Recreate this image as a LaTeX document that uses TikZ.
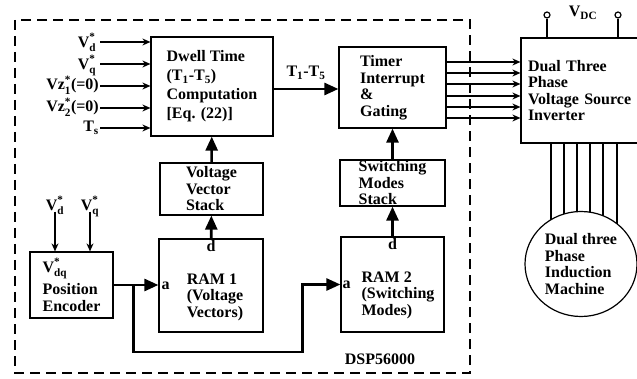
\documentclass[tikz,border=0pt]{standalone}
\usepackage{amsmath}
\usepackage{fontspec}
\setmainfont{Liberation Serif}
\usetikzlibrary{positioning,arrows.meta,shapes.geometric,backgrounds,calc}
\newcommand{\subsup}[2]{\smash{$_{\text{#1}}^{\text{#2}}$}}

\begin{document}
\begin{tikzpicture}[
  x=1pt, y=-1pt,
  font=\fontsize{16}{16.5}\selectfont\bfseries,
  box/.style   = {draw, line width=1.2pt, align=left, inner sep=0pt},
  txt/.style   = {align=left, inner sep=1pt},
  port/.style  = {inner sep=1pt},
  bus/.style   = {-{Triangle[length=14pt,width=12pt]}, line width=2.6pt},
  sig/.style   = {-{Stealth[length=8pt,width=7pt]}, line width=1.2pt},
  wire/.style  = {line width=1.2pt},
  frame/.style = {line width=1.6pt, dash pattern=on 10pt off 6pt},
  term/.style  = {draw, circle, line width=1.2pt, minimum size=6pt, inner sep=0pt},
]
\clip (0,0) rectangle (637,379);

% ---------- DSP blocks ----------
\node[box, minimum width=122pt, minimum height=99pt,
      font=\fontsize{16}{19}\selectfont\bfseries] (dwell) at (212,86.5)
  {Dwell Time\\(T\textsubscript{1}-T\textsubscript{5})\\Computation\\{[}Eq. (22)]};
\node[box, minimum width=107pt, minimum height=81pt] (timer) at (392.5,87.5)
  {Timer\\Interrupt\\\&\\Gating};
\node[box, minimum width=103pt, minimum height=52pt] (vstack) at (211.5,189)
  {Voltage\\Vector\\Stack};
\node[box, minimum width=105pt, minimum height=46pt] (sstack) at (392.5,183)
  {Switching\\Modes\\Stack};
\node[box, minimum width=104pt, minimum height=93pt] (ram1) at (211,285.5) {};
\node[txt] (ram1t) at (215,297) {RAM 1\\(Voltage\\Vectors)};
\node[box, minimum width=103pt, minimum height=95pt] (ram2) at (392.5,284.5) {};
\node[txt] (ram2t) at (398,295) {RAM 2\\(Switching\\Modes)};
\node[box, minimum width=83pt, minimum height=66pt] (enc) at (71.5,285)
  {V$_{\text{dq}}^{\text{*}}$\\[4pt]Position\\Encoder};

% ---------- ports ----------
\node[port, below=1pt of ram1.north] (ram1d) {d};
\node[port, right=2pt of ram1.west] (ram1a) {a};
\node[port, below=1pt of ram2.north] (ram2d) {d};
\node[port, right=1pt of ram2.west] (ram2a) {a};

% ---------- inputs ----------
\node[txt, anchor=east] (vdin)  at (100,42)  {V\subsup{d}{*}\,};
\node[txt, anchor=east] (vqin)  at (100,64)  {V\subsup{q}{*}\,};
\node[txt, anchor=east] (vz1in) at (100,86)  {Vz\subsup{1}{*}(=0)};
\node[txt, anchor=east] (vz2in) at (100,108) {Vz\subsup{2}{*}(=0)};
\node[txt, anchor=east] (tsin)  at (100,128) {T\textsubscript{s}};
\node[txt] (vdenc) at (55,205) {V\subsup{d}{*}};
\node[txt] (vqenc) at (90,205) {V\subsup{q}{*}};

% ---------- drive side ----------
\node[box, minimum width=139pt, minimum height=105pt, text width=125pt] (inv) at (590.5,90.5)
  {Dual Three\\Phase\\Voltage Source\\Inverter};
\node[box, ellipse, minimum width=112pt, minimum height=105pt, fill=white] (mach) at (581,264)
  {Dual three\\Phase\\Induction\\Machine};
\node[term] (vdcn) at (547,15) {};
\node[term] (vdcp) at (618,15) {};
\node[port] (vdc) at (583,13) {V\textsubscript{DC}};

% ---------- arrows ----------
\foreach \n in {vdin,vqin,vz1in,vz2in,tsin}
  \draw[sig] (\n.east) -- (\n.east -| dwell.west);
\draw[sig] (vdenc) -- (vdenc |- enc.north);
\draw[sig] (vqenc) -- (vqenc |- enc.north);
\draw[bus] (vstack) -- (dwell);
\draw[bus] (ram1) -- (vstack);
\draw[bus] (sstack) -- (timer);
\draw[bus] (ram2) -- (sstack);
\draw[bus] (dwell.east |- 0,89) -- (timer.west |- 0,89)
  node[port, midway, above=7pt] (t15) {T\textsubscript{1}-T\textsubscript{5}};
\coordinate[right=20pt of enc.east] (br);
\draw[bus] (enc.east) -- (enc.east -| ram1.west);
\draw[bus] (br) -- ++(0,67) -| ($(ram2.west)+(-38,0)$) -- (ram2.west);
\foreach \y in {62,73,84,96,107,118}
  \draw[sig] (timer.east |- 0,\y) -- (inv.west |- 0,\y);
\draw[wire] (vdcn) -- (vdcn |- inv.north);
\draw[wire] (vdcp) -- (vdcp |- inv.north);
\begin{scope}[on background layer]
  \foreach \dx in {-30,-17,-4,9,22,36}
    \draw[wire] ([xshift=\dx pt]mach.center |- inv.south) -- ([xshift=\dx pt]mach.center);
\end{scope}

% ---------- DSP boundary ----------
\draw[frame] (15,20) rectangle (470,373);
\node[port] (dsp) at (380,359) {DSP56000};

\end{tikzpicture}
\end{document}
